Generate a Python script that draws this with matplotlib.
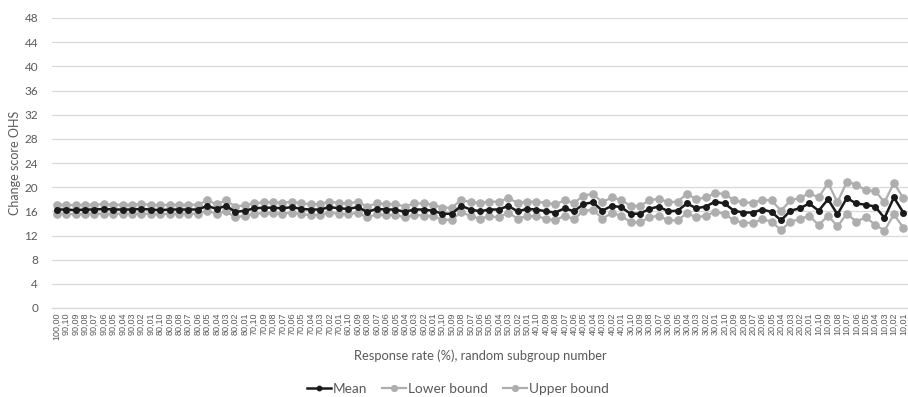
import matplotlib
matplotlib.use("Agg")
import matplotlib.pyplot as plt

plt.rcParams['font.family'] = ['Lato', 'DejaVu Sans']

labels = [
    "100,00",
    "90,10", "90,09", "90,08", "90,07", "90,06", "90,05", "90,04", "90,03", "90,02", "90,01",
    "80,10", "80,09", "80,08", "80,07", "80,06", "80,05", "80,04", "80,03", "80,02", "80,01",
    "70,10", "70,09", "70,08", "70,07", "70,06", "70,05", "70,04", "70,03", "70,02", "70,01",
    "60,10", "60,09", "60,08", "60,07", "60,06", "60,05", "60,04", "60,03", "60,02", "60,01",
    "50,10", "50,09", "50,08", "50,07", "50,06", "50,05", "50,04", "50,03", "50,02", "50,01",
    "40,10", "40,09", "40,08", "40,07", "40,06", "40,05", "40,04", "40,03", "40,02", "40,01",
    "30,10", "30,09", "30,08", "30,07", "30,06", "30,05", "30,04", "30,03", "30,02", "30,01",
    "20,10", "20,09", "20,08", "20,07", "20,06", "20,05", "20,04", "20,03", "20,02", "20,01",
    "10,10", "10,09", "10,08", "10,07", "10,06", "10,05", "10,04", "10,03", "10,02", "10,01",
]

mean = [
    16.3,
    16.3, 16.2, 16.3, 16.3, 16.4, 16.3, 16.3, 16.3, 16.4, 16.3,
    16.2, 16.3, 16.3, 16.3, 16.3, 16.9, 16.4, 16.9, 15.9, 16.1,
    16.5, 16.6, 16.6, 16.5, 16.7, 16.4, 16.3, 16.3, 16.7, 16.5,
    16.4, 16.7, 15.9, 16.4, 16.3, 16.3, 15.9, 16.3, 16.3, 16.1,
    15.6, 15.6, 16.9, 16.3, 16.0, 16.3, 16.3, 16.9, 16.0, 16.4,
    16.3, 16.0, 15.8, 16.5, 16.0, 17.2, 17.5, 16.1, 16.9, 16.7,
    15.6, 15.6, 16.4, 16.8, 16.0, 16.1, 17.3, 16.5, 16.8, 17.6,
    17.3, 16.1, 15.8, 15.8, 16.3, 15.9, 14.5, 16.1, 16.5, 17.3,
    16.1, 18.0, 15.5, 18.2, 17.3, 17.1, 16.8, 14.9, 18.3, 15.8,
]

lower = [
    15.6,
    15.6, 15.5, 15.6, 15.6, 15.6, 15.6, 15.6, 15.6, 15.6, 15.6,
    15.5, 15.6, 15.6, 15.6, 15.6, 16.1, 15.6, 16.0, 15.0, 15.3,
    15.6, 15.7, 15.7, 15.6, 15.8, 15.5, 15.4, 15.4, 15.8, 15.6,
    15.5, 15.8, 15.0, 15.5, 15.4, 15.4, 15.0, 15.4, 15.3, 15.2,
    14.6, 14.6, 15.9, 15.2, 14.8, 15.2, 15.0, 15.8, 14.8, 15.2,
    15.2, 14.8, 14.5, 15.3, 14.7, 16.1, 16.3, 14.8, 15.7, 15.3,
    14.2, 14.2, 15.0, 15.3, 14.5, 14.5, 15.7, 15.0, 15.3, 15.9,
    15.6, 14.5, 14.1, 14.1, 14.7, 14.3, 12.9, 14.3, 14.7, 15.3,
    13.7, 15.3, 13.5, 15.6, 14.3, 15.0, 13.8, 12.8, 15.5, 13.3,
]

upper = [
    17.1,
    17.1, 17.0, 17.1, 17.1, 17.2, 17.1, 17.1, 17.1, 17.2, 17.1,
    17.0, 17.1, 17.1, 17.1, 17.1, 17.8, 17.2, 17.8, 16.8, 17.0,
    17.3, 17.5, 17.5, 17.4, 17.6, 17.3, 17.2, 17.2, 17.6, 17.4,
    17.3, 17.6, 16.8, 17.3, 17.2, 17.2, 16.8, 17.3, 17.3, 17.1,
    16.6, 16.6, 17.9, 17.5, 17.4, 17.6, 17.6, 18.2, 17.4, 17.6,
    17.6, 17.4, 17.2, 17.8, 17.4, 18.6, 18.9, 17.5, 18.3, 17.9,
    16.9, 16.9, 17.8, 18.1, 17.5, 17.6, 18.9, 18.0, 18.3, 19.0,
    18.9, 17.8, 17.5, 17.4, 17.9, 17.8, 16.1, 17.8, 18.2, 19.0,
    18.3, 20.7, 17.5, 20.9, 20.4, 19.5, 19.4, 17.5, 20.7, 18.2,
]

yticks = [0, 4, 8, 12, 16, 20, 24, 28, 32, 36, 40, 44, 48]

W, H = 908, 397
fig = plt.figure(figsize=(W / 100, H / 100), dpi=100)
ax = fig.add_axes([52 / W, 1 - 308 / H, 856 / W, 290 / H])

x = list(range(len(labels)))
gray = '#AEAEAE'
txt = '#595959'

ax.plot(x, lower, color=gray, lw=1.6, marker='o', ms=5.2, zorder=2, label='Lower bound')
ax.plot(x, upper, color=gray, lw=1.6, marker='o', ms=5.2, zorder=2, label='Upper bound')
ax.plot(x, mean, color='#1a1a1a', lw=1.8, marker='o', ms=4.0, zorder=3, label='Mean')

ax.set_xlim(-0.5, len(labels) - 0.5)
ax.set_ylim(0, 48)
ax.set_yticks(yticks)
ax.set_yticklabels([str(v) for v in yticks], fontsize=8.5, color=txt)
ax.set_xticks(x)
ax.set_xticklabels(labels, rotation=90, fontsize=6.5, color=txt, family=['Liberation Sans', 'DejaVu Sans'])
ax.tick_params(axis='both', length=0, pad=3)
ax.tick_params(axis='y', pad=10)
ax.grid(axis='y', color='#D9D9D9', lw=0.9)
ax.set_axisbelow(True)
for s in ['top', 'right', 'left']:
    ax.spines[s].set_visible(False)
ax.spines['bottom'].set_color('#D9D9D9')
ax.spines['bottom'].set_linewidth(0.9)

fig.text(15 / W, 1 - 163 / H, 'Change score OHS', rotation=90, ha='center', va='center',
         fontsize=9, color=txt)
fig.text(480 / W, 1 - 356 / H, 'Response rate (%), random subgroup number', ha='center',
         va='center', fontsize=9.3, color=txt)

handles, labs = ax.get_legend_handles_labels()
order = [2, 0, 1]
leg = fig.legend([handles[i] for i in order], [labs[i] for i in order], loc='center',
                 bbox_to_anchor=(458 / W, 1 - 389 / H), ncol=3, frameon=False, fontsize=9.8,
                 handlelength=1.75, columnspacing=1.1, handletextpad=0.15, borderpad=0.2,
                 markerscale=0.8)
for t in leg.get_texts():
    t.set_color(txt)

fig.savefig('out.png', dpi=100)
